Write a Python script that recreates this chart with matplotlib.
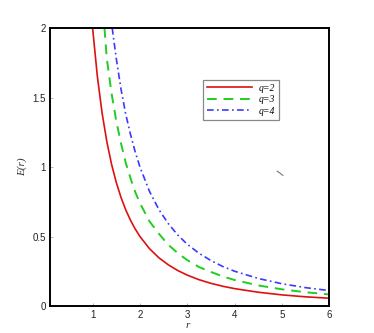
import matplotlib
matplotlib.use("Agg")
import matplotlib.pyplot as plt

# values
r_q2 = [1.0, 1.1, 1.2, 1.3, 1.4, 1.5, 1.6, 1.7, 1.8, 1.9, 2.0, 2.2, 2.4, 2.6, 2.8, 3.0,
        3.25, 3.5, 3.75, 4.0, 4.5, 5.0, 5.5, 6.0]
E_q2 = [2.0, 1.653, 1.389, 1.183, 1.020, 0.889, 0.781, 0.692, 0.617, 0.554, 0.500, 0.413,
        0.347, 0.296, 0.255, 0.222, 0.189, 0.163, 0.142, 0.125, 0.099, 0.080, 0.066, 0.056]

r_q3 = [1.25, 1.3, 1.4, 1.5, 1.6, 1.7, 1.8, 1.9, 2.0, 2.2, 2.4, 2.6, 2.8, 3.0,
        3.25, 3.5, 3.75, 4.0, 4.5, 5.0, 5.5, 6.0]
E_q3 = [2.0, 1.78, 1.53, 1.33, 1.17, 1.03, 0.92, 0.82, 0.74, 0.61, 0.52, 0.44, 0.38, 0.33,
        0.28, 0.245, 0.213, 0.187, 0.148, 0.120, 0.099, 0.083]

r_q4 = [1.414, 1.5, 1.6, 1.7, 1.8, 1.9, 2.0, 2.2, 2.4, 2.6, 2.8, 3.0,
        3.25, 3.5, 3.75, 4.0, 4.5, 5.0, 5.5, 6.0]
E_q4 = [2.0, 1.78, 1.56, 1.38, 1.235, 1.108, 1.0, 0.826, 0.694, 0.592, 0.510, 0.444,
        0.379, 0.327, 0.284, 0.250, 0.198, 0.160, 0.132, 0.111]

labels = ["q=2", "q=3", "q=4"]
x_ticks = [1, 2, 3, 4, 5, 6]
y_ticks = [0, 0.5, 1, 1.5, 2]
y_ticklabels = ["0", "0.5", "1", "1.5", "2"]

W, H = 374, 333
fig = plt.figure(figsize=(W / 100, H / 100), dpi=100)
ax = fig.add_axes([50 / W, 1 - 306 / H, (329.3 - 50) / W, (306 - 28) / H])

ax.plot(r_q2, E_q2, color="#dd1111", lw=1.2, ls="-", label=labels[0])
ax.plot(r_q3, E_q3, color="#22cc22", lw=1.4, ls=(0, (5, 3.5)), label=labels[1])
ax.plot(r_q4, E_q4, color="#3a3aff", lw=1.2, ls=(0, (4, 2, 1, 2)), label=labels[2])

# small stray mark in the reference
ax.plot([4.90, 5.02], [0.97, 0.94], color="#777777", lw=0.8)

ax.set_xlim(0.1, 6)
ax.set_ylim(0, 2)
ax.set_xticks(x_ticks)
ax.set_xticklabels([str(t) for t in x_ticks])
ax.set_yticks(y_ticks)
ax.set_yticklabels(y_ticklabels)
ax.tick_params(direction="in", length=2, width=0.5, colors="#999999",
               labelcolor="#222222", labelsize=7, pad=3)
for lab in ax.get_xticklabels() + ax.get_yticklabels():
    lab.set_family("Liberation Sans")
for s in ax.spines.values():
    s.set_linewidth(1.4)
    s.set_color("black")

fig.text(22 / W, 1 - 167 / H, "E(r)", rotation=90, ha="center", va="center",
         family="Liberation Serif", style="italic", fontsize=8, color="#333333")
fig.text(188 / W, 1 - 325 / H, "r", ha="center", va="center",
         family="Liberation Serif", style="italic", fontsize=8, color="#333333")

leg = ax.legend(loc="upper left", bbox_to_anchor=(203 / W, 1 - 80 / H),
                bbox_transform=fig.transFigure, borderaxespad=0, fancybox=False,
                edgecolor="#888888", framealpha=1, handlelength=4.6,
                handletextpad=0.7, borderpad=0.4, labelspacing=0.25,
                prop={"family": "Liberation Serif", "style": "italic", "size": 7})
leg.get_frame().set_linewidth(0.9)

fig.savefig("out.png", dpi=100)
